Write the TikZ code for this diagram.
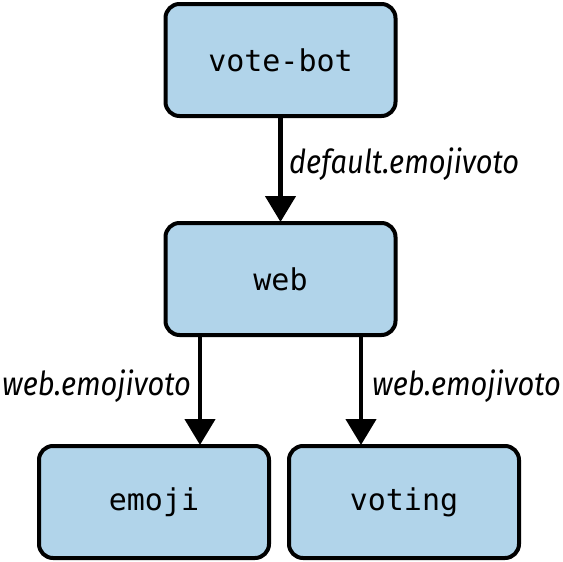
\documentclass[tikz,border=0pt]{standalone}
\usepackage{fontspec}
\setmonofont{DejaVu Sans Mono}
\newfontfamily\lblfont[FakeStretch=0.88]{Fira Sans}
\usetikzlibrary{arrows.meta}
\definecolor{boxblue}{HTML}{B1D4EA}
\begin{document}
\begin{tikzpicture}[x=1pt,y=-1pt,
  svc/.style={draw=black, line width=4pt, fill=boxblue, rounded corners=14pt,
    minimum width=230pt, minimum height=112pt, inner sep=0pt,
    font=\ttfamily\fontsize{30}{34}\selectfont},
  conn/.style={line width=4.5pt, -{Triangle[width=30pt,length=26pt]}, shorten >=-1pt},
  lbl/.style={font=\lblfont\itshape\fontsize{33}{38}\selectfont, inner sep=0pt}]
\useasboundingbox (0,0) rectangle (563,562);
\node[svc] (vb) at (280.5,60) {vote-bot};
\node[svc] (web) at (280.5,279) {web};
\node[svc] (emoji) at (154,502) {emoji};
\node[svc] (voting) at (404,502) {voting};
\coordinate (e1) at (200,0);
\coordinate (v1) at (361,0);
\draw[conn] (vb.south) -- (web.north);
\draw[conn] (web.south -| e1) -- (emoji.north -| e1);
\draw[conn] (web.south -| v1) -- (voting.north -| v1);
\node[lbl, anchor=base west] (l1) at (289,173) {default.emojivoto};
\node[lbl, anchor=base west] (l2) at (2,395) {web.emojivoto};
\node[lbl, anchor=base west] (l3) at (372,395) {web.emojivoto};
\end{tikzpicture}
\end{document}
